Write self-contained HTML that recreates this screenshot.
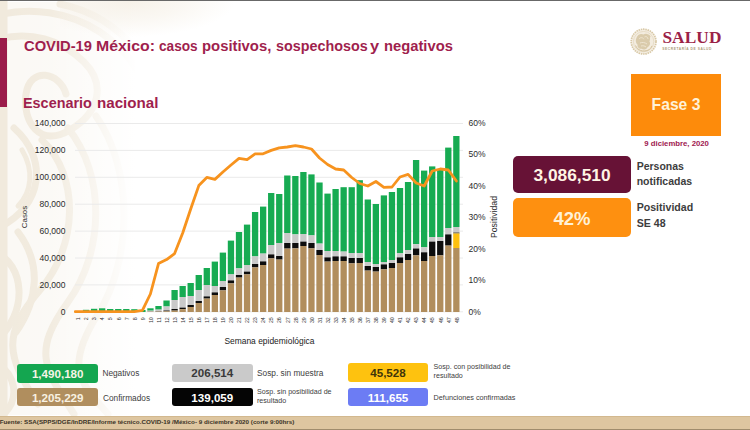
<!DOCTYPE html>
<html><head><meta charset="utf-8">
<style>
html,body{margin:0;padding:0;}
body{width:750px;height:430px;position:relative;overflow:hidden;background:#fff;font-family:"Liberation Sans",sans-serif;}
div{position:absolute;white-space:nowrap;line-height:1;}
.topline{left:0;top:0;width:750px;height:1.3px;background:#686868;}
.wm2{left:60px;top:1px;width:220px;height:40px;background:radial-gradient(ellipse 105px 36px at 70px 0px,rgba(243,236,224,0.7),rgba(243,236,224,0.4) 50%,rgba(243,236,224,0) 100%);}
.wm{left:0;top:2px;width:170px;height:413px;background:#fbf9f5;}
.sidebar{left:0;top:38px;width:7.2px;height:69px;background:#9b1c4a;}
.title{font-weight:bold;color:#9f1f4e;transform-origin:0 0;}
.sub{font-weight:bold;color:#9f1f4e;transform-origin:0 0;}
.yl{left:20px;width:45.5px;text-align:right;font-size:8.5px;color:#2b2b2b;}
.yr{left:468.6px;font-size:8.5px;color:#2b2b2b;}
.casos{left:24.7px;top:217.3px;font-size:7.9px;color:#2b2b2b;transform:translate(-50%,-50%) rotate(-90deg);}
.posit{left:493.6px;top:217.3px;font-size:8.7px;color:#2b2b2b;transform:translate(-50%,-50%) rotate(-90deg);}
.sem{left:224.4px;top:337.2px;font-size:8.45px;color:#222;}
.box{border-radius:3px;text-align:center;font-weight:bold;}
.lg{font-size:8.3px;color:#404040;}
.lgs{font-size:7.1px;color:#404040;}
.footer{left:0;top:415.5px;width:750px;height:14.5px;background:#dec6a0;border-top:1px solid #d2b88f;box-sizing:border-box;}
.footl{left:0;top:428.8px;width:750px;height:1.2px;background:#a08c6c;}
.ftext{left:-0.3px;top:418.7px;font-size:6.25px;font-weight:bold;color:#3a3327;}
</style></head><body>
<div class="wm"></div>
<svg style="position:absolute;left:0;top:0" width="170" height="416" viewBox="0 0 170 416">
<defs><linearGradient id="fd" x1="0" x2="1" y1="0" y2="0"><stop offset="0" stop-color="#fff" stop-opacity="0"/><stop offset="0.3" stop-color="#fff" stop-opacity="0.1"/><stop offset="0.5" stop-color="#fff" stop-opacity="0.45"/><stop offset="0.68" stop-color="#fff" stop-opacity="0.8"/><stop offset="0.8" stop-color="#fff" stop-opacity="1"/><stop offset="1" stop-color="#fff" stop-opacity="1"/></linearGradient></defs>
<g fill="none" stroke="#f1eadd" stroke-width="7" stroke-linecap="round">
<path d="M3 0 L3 416" stroke-width="9"/>
<path d="M-5 16 C30 6 70 12 100 32 S140 72 150 100"/>
<path d="M-5 40 C30 30 62 40 84 62 S100 112 70 130 S22 122 26 94 S60 72 66 94"/>
<path d="M60 4 C90 10 118 26 135 50"/>
<path d="M14 128 C48 158 44 206 -2 228"/>
<path d="M42 140 C80 176 78 246 40 290 S6 356 38 404"/>
<path d="M68 128 C106 176 104 252 68 302 S44 368 74 414"/>
<path d="M96 116 C134 170 132 260 98 314 S80 382 108 414"/>
<path d="M-5 252 C24 264 30 312 -5 342"/>
<path d="M-5 362 C16 374 20 398 4 414"/>
<path d="M18 232 C42 264 38 300 16 332"/>
<path d="M22 150 C34 170 32 192 18 206" stroke-width="5"/>
</g>
<rect x="0" y="0" width="170" height="416" fill="url(#fd)"/>
</svg>
<div class="wm2"></div>
<div class="topline"></div>
<div class="sidebar"></div>
<div class="title" style="left:23.58px;top:39.4px;font-size:14.2px;transform:scaleX(1.0378);">COVID-19</div>
<div class="title" style="left:96.11px;top:39.4px;font-size:14.2px;transform:scaleX(1.1162);">México:</div>
<div class="title" style="left:159.20px;top:39.4px;font-size:14.2px;transform:scaleX(0.9617);">casos</div>
<div class="title" style="left:202.16px;top:39.4px;font-size:14.2px;transform:scaleX(1.0469);">positivos,</div>
<div class="title" style="left:275.79px;top:39.4px;font-size:14.2px;transform:scaleX(1.0112);">sospechosos</div>
<div class="title" style="left:370.23px;top:39.4px;font-size:14.2px;transform:scaleX(1.1576);">y</div>
<div class="title" style="left:383.78px;top:39.4px;font-size:14.2px;transform:scaleX(1.0400);">negativos</div>
<div class="sub" style="left:23.19px;top:95.5px;font-size:14.2px;transform:scaleX(1.0152);">Escenario</div>
<div class="sub" style="left:97.15px;top:95.5px;font-size:14.2px;transform:scaleX(1.0679);">nacional</div>

<!-- logo -->
<svg style="position:absolute;left:627.9px;top:25.9px" width="32" height="32" viewBox="0 0 32 32">
<circle cx="15.6" cy="15.6" r="12.4" fill="#f4eee2" stroke="#d8c8a6" stroke-width="1.7" stroke-dasharray="1.5 0.8"/>
<circle cx="15.6" cy="15.6" r="10.2" fill="#f3ecdf" stroke="#e2d5bb" stroke-width="0.7"/>
<path d="M8.2 12.5 C9.5 8.5 13 7.2 15.5 8.6 C17 6.8 21 7.6 22.6 10.4 C21.4 11.2 22.6 13.4 21.4 15.4 C23 17 21.6 20.4 19.2 21.4 C18.6 23.4 15.4 24.4 13.6 22.8 C11 23.2 9 21 9.6 18.8 C7.8 17.4 7.4 14.6 8.2 12.5 Z" fill="#d5c5a2" opacity="0.85"/>
<path d="M11 13 C12.5 11 15 11.4 15.8 13.2 M16.5 11 C18 10 20 11 20 13 M12 17 C14 16 17 16.4 19 18 M13 20 C15 19.4 17 20 18 21" stroke="#efe6d4" stroke-width="0.9" fill="none"/>
<path d="M7.5 19.5 C9.5 24.5 15 26.2 20 24.2 C22 23.4 23.4 21.6 24 19.8" stroke="#d4c29c" stroke-width="1" fill="none"/>
</svg>
<div id="salud" style="left:662.4px;top:28.7px;font-family:'Liberation Serif',serif;font-weight:bold;font-size:17.3px;color:#9b2247;letter-spacing:0.1px;">SALUD</div>
<div id="secr" style="left:662.3px;top:48.3px;font-size:3.3px;font-weight:bold;color:#ad9b78;letter-spacing:0.57px;">SECRETARÍA DE SALUD</div>

<div style="left:631px;top:73.6px;width:90px;height:62px;background:#fd8b0b;"></div>
<div id="fase" style="left:631.2px;top:95.6px;width:90px;text-align:center;transform:scaleX(0.95);font-size:16.5px;font-weight:bold;color:#fff2d8;">Fase 3</div>
<div id="fecha" style="left:644.3px;top:140.3px;font-size:7.75px;font-weight:bold;color:#a02050;">9 diciembre, 2020</div>

<div style="left:513px;top:155.5px;width:118px;height:37.8px;background:#671236;border-radius:5px;"></div>
<div id="n1" style="left:513px;top:166.8px;width:118px;text-align:center;transform:scaleX(1.02);font-size:17px;font-weight:bold;color:#fff4e4;">3,086,510</div>
<div style="left:513px;top:198.4px;width:118px;height:38.2px;background:#fe9010;border-radius:5px;"></div>
<div id="n2" style="left:513.3px;top:210.8px;width:118px;text-align:center;transform:scaleX(1.05);font-size:17.6px;font-weight:bold;color:#fff2d8;">42%</div>
<div id="t1" style="left:636.7px;top:158.8px;font-size:10.5px;font-weight:bold;color:#3d3d3d;line-height:15.5px;white-space:normal;width:90px;">Personas<br>notificadas</div>
<div id="t2" style="left:636.7px;top:200.1px;font-size:10.6px;font-weight:bold;color:#3d3d3d;line-height:15.7px;white-space:normal;width:90px;">Positividad<br>SE 48</div>

<!-- chart -->
<svg style="position:absolute;left:0;top:0" width="750" height="430" viewBox="0 0 750 430" font-family="Liberation Sans, sans-serif">
<line x1="75" x2="463" y1="123.5" y2="123.5" stroke="#eaeaea" stroke-width="1"/>
<line x1="75" x2="463" y1="150.4" y2="150.4" stroke="#eaeaea" stroke-width="1"/>
<line x1="75" x2="463" y1="177.3" y2="177.3" stroke="#eaeaea" stroke-width="1"/>
<line x1="75" x2="463" y1="204.2" y2="204.2" stroke="#eaeaea" stroke-width="1"/>
<line x1="75" x2="463" y1="231.1" y2="231.1" stroke="#eaeaea" stroke-width="1"/>
<line x1="75" x2="463" y1="258.0" y2="258.0" stroke="#eaeaea" stroke-width="1"/>
<line x1="75" x2="463" y1="284.9" y2="284.9" stroke="#eaeaea" stroke-width="1"/>
<line x1="75" x2="463" y1="311.8" y2="311.8" stroke="#eaeaea" stroke-width="1"/>
<rect x="74.85" y="311.30" width="6.3" height="0.70" fill="#17ab52"/>
<rect x="82.90" y="309.80" width="6.3" height="2.20" fill="#17ab52"/>
<rect x="90.95" y="308.80" width="6.3" height="3.20" fill="#17ab52"/>
<rect x="99.00" y="308.30" width="6.3" height="3.70" fill="#17ab52"/>
<rect x="107.05" y="309.00" width="6.3" height="3.00" fill="#17ab52"/>
<rect x="115.10" y="309.00" width="6.3" height="3.00" fill="#17ab52"/>
<rect x="123.15" y="309.00" width="6.3" height="3.00" fill="#17ab52"/>
<rect x="131.20" y="309.20" width="6.3" height="2.80" fill="#17ab52"/>
<rect x="139.25" y="310.00" width="6.3" height="2.00" fill="#17ab52"/>
<rect x="147.30" y="308.30" width="6.3" height="2.40" fill="#17ab52"/>
<rect x="147.30" y="310.70" width="6.3" height="0.90" fill="#c9c9c9"/>
<rect x="147.30" y="311.60" width="6.3" height="0.10" fill="#0d0d0d"/>
<rect x="147.30" y="311.70" width="6.3" height="0.30" fill="#b18e5d"/>
<rect x="155.35" y="306.00" width="6.3" height="3.60" fill="#17ab52"/>
<rect x="155.35" y="309.60" width="6.3" height="1.70" fill="#c9c9c9"/>
<rect x="155.35" y="311.30" width="6.3" height="0.30" fill="#0d0d0d"/>
<rect x="155.35" y="311.60" width="6.3" height="0.40" fill="#b18e5d"/>
<rect x="163.40" y="300.50" width="6.3" height="6.00" fill="#17ab52"/>
<rect x="163.40" y="306.50" width="6.3" height="4.00" fill="#c9c9c9"/>
<rect x="163.40" y="310.50" width="6.3" height="0.80" fill="#0d0d0d"/>
<rect x="163.40" y="311.30" width="6.3" height="0.70" fill="#b18e5d"/>
<rect x="171.45" y="290.00" width="6.3" height="10.00" fill="#17ab52"/>
<rect x="171.45" y="300.00" width="6.3" height="9.00" fill="#c9c9c9"/>
<rect x="171.45" y="309.00" width="6.3" height="1.60" fill="#0d0d0d"/>
<rect x="171.45" y="310.60" width="6.3" height="1.40" fill="#b18e5d"/>
<rect x="179.50" y="286.00" width="6.3" height="11.00" fill="#17ab52"/>
<rect x="179.50" y="297.00" width="6.3" height="10.60" fill="#c9c9c9"/>
<rect x="179.50" y="307.60" width="6.3" height="1.60" fill="#0d0d0d"/>
<rect x="179.50" y="309.20" width="6.3" height="2.80" fill="#b18e5d"/>
<rect x="187.55" y="283.00" width="6.3" height="13.00" fill="#17ab52"/>
<rect x="187.55" y="296.00" width="6.3" height="9.00" fill="#c9c9c9"/>
<rect x="187.55" y="305.00" width="6.3" height="2.00" fill="#0d0d0d"/>
<rect x="187.55" y="307.00" width="6.3" height="5.00" fill="#b18e5d"/>
<rect x="195.60" y="275.00" width="6.3" height="15.00" fill="#17ab52"/>
<rect x="195.60" y="290.00" width="6.3" height="11.00" fill="#c9c9c9"/>
<rect x="195.60" y="301.00" width="6.3" height="2.00" fill="#0d0d0d"/>
<rect x="195.60" y="303.00" width="6.3" height="9.00" fill="#b18e5d"/>
<rect x="203.65" y="268.00" width="6.3" height="17.00" fill="#17ab52"/>
<rect x="203.65" y="285.00" width="6.3" height="11.40" fill="#c9c9c9"/>
<rect x="203.65" y="296.40" width="6.3" height="2.20" fill="#0d0d0d"/>
<rect x="203.65" y="298.60" width="6.3" height="13.40" fill="#b18e5d"/>
<rect x="211.70" y="261.60" width="6.3" height="24.40" fill="#17ab52"/>
<rect x="211.70" y="286.00" width="6.3" height="6.40" fill="#c9c9c9"/>
<rect x="211.70" y="292.40" width="6.3" height="2.60" fill="#0d0d0d"/>
<rect x="211.70" y="295.00" width="6.3" height="17.00" fill="#b18e5d"/>
<rect x="219.75" y="252.60" width="6.3" height="28.40" fill="#17ab52"/>
<rect x="219.75" y="281.00" width="6.3" height="6.00" fill="#c9c9c9"/>
<rect x="219.75" y="287.00" width="6.3" height="3.40" fill="#0d0d0d"/>
<rect x="219.75" y="290.40" width="6.3" height="21.60" fill="#b18e5d"/>
<rect x="227.80" y="240.60" width="6.3" height="33.80" fill="#17ab52"/>
<rect x="227.80" y="274.40" width="6.3" height="6.00" fill="#c9c9c9"/>
<rect x="227.80" y="280.40" width="6.3" height="3.00" fill="#0d0d0d"/>
<rect x="227.80" y="283.40" width="6.3" height="28.60" fill="#b18e5d"/>
<rect x="235.85" y="232.00" width="6.3" height="36.40" fill="#17ab52"/>
<rect x="235.85" y="268.40" width="6.3" height="6.60" fill="#c9c9c9"/>
<rect x="235.85" y="275.00" width="6.3" height="2.60" fill="#0d0d0d"/>
<rect x="235.85" y="277.60" width="6.3" height="34.40" fill="#b18e5d"/>
<rect x="243.90" y="224.60" width="6.3" height="40.40" fill="#17ab52"/>
<rect x="243.90" y="265.00" width="6.3" height="6.60" fill="#c9c9c9"/>
<rect x="243.90" y="271.60" width="6.3" height="2.80" fill="#0d0d0d"/>
<rect x="243.90" y="274.40" width="6.3" height="37.60" fill="#b18e5d"/>
<rect x="251.95" y="212.00" width="6.3" height="44.40" fill="#17ab52"/>
<rect x="251.95" y="256.40" width="6.3" height="7.60" fill="#c9c9c9"/>
<rect x="251.95" y="264.00" width="6.3" height="3.40" fill="#0d0d0d"/>
<rect x="251.95" y="267.40" width="6.3" height="44.60" fill="#b18e5d"/>
<rect x="260.00" y="206.60" width="6.3" height="47.00" fill="#17ab52"/>
<rect x="260.00" y="253.60" width="6.3" height="7.80" fill="#c9c9c9"/>
<rect x="260.00" y="261.40" width="6.3" height="3.60" fill="#0d0d0d"/>
<rect x="260.00" y="265.00" width="6.3" height="47.00" fill="#b18e5d"/>
<rect x="268.05" y="193.00" width="6.3" height="52.00" fill="#17ab52"/>
<rect x="268.05" y="245.00" width="6.3" height="9.40" fill="#c9c9c9"/>
<rect x="268.05" y="254.40" width="6.3" height="4.00" fill="#0d0d0d"/>
<rect x="268.05" y="258.40" width="6.3" height="53.60" fill="#b18e5d"/>
<rect x="276.10" y="194.00" width="6.3" height="49.00" fill="#17ab52"/>
<rect x="276.10" y="243.00" width="6.3" height="13.00" fill="#c9c9c9"/>
<rect x="276.10" y="256.00" width="6.3" height="3.60" fill="#0d0d0d"/>
<rect x="276.10" y="259.60" width="6.3" height="52.40" fill="#b18e5d"/>
<rect x="284.15" y="175.50" width="6.3" height="57.50" fill="#17ab52"/>
<rect x="284.15" y="233.00" width="6.3" height="10.00" fill="#c9c9c9"/>
<rect x="284.15" y="243.00" width="6.3" height="5.60" fill="#0d0d0d"/>
<rect x="284.15" y="248.60" width="6.3" height="63.40" fill="#b18e5d"/>
<rect x="292.20" y="176.00" width="6.3" height="58.40" fill="#17ab52"/>
<rect x="292.20" y="234.40" width="6.3" height="8.60" fill="#c9c9c9"/>
<rect x="292.20" y="243.00" width="6.3" height="5.40" fill="#0d0d0d"/>
<rect x="292.20" y="248.40" width="6.3" height="63.60" fill="#b18e5d"/>
<rect x="300.25" y="172.00" width="6.3" height="62.00" fill="#17ab52"/>
<rect x="300.25" y="234.00" width="6.3" height="7.60" fill="#c9c9c9"/>
<rect x="300.25" y="241.60" width="6.3" height="4.40" fill="#0d0d0d"/>
<rect x="300.25" y="246.00" width="6.3" height="66.00" fill="#b18e5d"/>
<rect x="308.30" y="174.40" width="6.3" height="61.00" fill="#17ab52"/>
<rect x="308.30" y="235.40" width="6.3" height="7.60" fill="#c9c9c9"/>
<rect x="308.30" y="243.00" width="6.3" height="5.40" fill="#0d0d0d"/>
<rect x="308.30" y="248.40" width="6.3" height="63.60" fill="#b18e5d"/>
<rect x="316.35" y="182.50" width="6.3" height="61.10" fill="#17ab52"/>
<rect x="316.35" y="243.60" width="6.3" height="6.40" fill="#c9c9c9"/>
<rect x="316.35" y="250.00" width="6.3" height="5.00" fill="#0d0d0d"/>
<rect x="316.35" y="255.00" width="6.3" height="57.00" fill="#b18e5d"/>
<rect x="324.40" y="193.60" width="6.3" height="57.40" fill="#17ab52"/>
<rect x="324.40" y="251.00" width="6.3" height="6.40" fill="#c9c9c9"/>
<rect x="324.40" y="257.40" width="6.3" height="4.20" fill="#0d0d0d"/>
<rect x="324.40" y="261.60" width="6.3" height="50.40" fill="#b18e5d"/>
<rect x="332.45" y="189.00" width="6.3" height="62.00" fill="#17ab52"/>
<rect x="332.45" y="251.00" width="6.3" height="5.40" fill="#c9c9c9"/>
<rect x="332.45" y="256.40" width="6.3" height="4.60" fill="#0d0d0d"/>
<rect x="332.45" y="261.00" width="6.3" height="51.00" fill="#b18e5d"/>
<rect x="340.50" y="187.20" width="6.3" height="64.40" fill="#17ab52"/>
<rect x="340.50" y="251.60" width="6.3" height="4.80" fill="#c9c9c9"/>
<rect x="340.50" y="256.40" width="6.3" height="4.60" fill="#0d0d0d"/>
<rect x="340.50" y="261.00" width="6.3" height="51.00" fill="#b18e5d"/>
<rect x="348.55" y="187.20" width="6.3" height="65.80" fill="#17ab52"/>
<rect x="348.55" y="253.00" width="6.3" height="5.00" fill="#c9c9c9"/>
<rect x="348.55" y="258.00" width="6.3" height="5.40" fill="#0d0d0d"/>
<rect x="348.55" y="263.40" width="6.3" height="48.60" fill="#b18e5d"/>
<rect x="356.60" y="180.20" width="6.3" height="72.80" fill="#17ab52"/>
<rect x="356.60" y="253.00" width="6.3" height="5.00" fill="#c9c9c9"/>
<rect x="356.60" y="258.00" width="6.3" height="5.00" fill="#0d0d0d"/>
<rect x="356.60" y="263.00" width="6.3" height="49.00" fill="#b18e5d"/>
<rect x="364.65" y="199.50" width="6.3" height="62.50" fill="#17ab52"/>
<rect x="364.65" y="262.00" width="6.3" height="4.00" fill="#c9c9c9"/>
<rect x="364.65" y="266.00" width="6.3" height="4.60" fill="#0d0d0d"/>
<rect x="364.65" y="270.60" width="6.3" height="41.40" fill="#b18e5d"/>
<rect x="372.70" y="204.00" width="6.3" height="60.00" fill="#17ab52"/>
<rect x="372.70" y="264.00" width="6.3" height="3.00" fill="#c9c9c9"/>
<rect x="372.70" y="267.00" width="6.3" height="4.60" fill="#0d0d0d"/>
<rect x="372.70" y="271.60" width="6.3" height="40.40" fill="#b18e5d"/>
<rect x="380.75" y="195.40" width="6.3" height="66.60" fill="#17ab52"/>
<rect x="380.75" y="262.00" width="6.3" height="2.40" fill="#c9c9c9"/>
<rect x="380.75" y="264.40" width="6.3" height="5.00" fill="#0d0d0d"/>
<rect x="380.75" y="269.40" width="6.3" height="42.60" fill="#b18e5d"/>
<rect x="388.80" y="192.00" width="6.3" height="68.00" fill="#17ab52"/>
<rect x="388.80" y="260.00" width="6.3" height="3.00" fill="#c9c9c9"/>
<rect x="388.80" y="263.00" width="6.3" height="5.00" fill="#0d0d0d"/>
<rect x="388.80" y="268.00" width="6.3" height="44.00" fill="#b18e5d"/>
<rect x="396.85" y="188.00" width="6.3" height="65.30" fill="#17ab52"/>
<rect x="396.85" y="253.30" width="6.3" height="4.10" fill="#c9c9c9"/>
<rect x="396.85" y="257.40" width="6.3" height="5.60" fill="#0d0d0d"/>
<rect x="396.85" y="263.00" width="6.3" height="49.00" fill="#b18e5d"/>
<rect x="404.90" y="182.00" width="6.3" height="68.00" fill="#17ab52"/>
<rect x="404.90" y="250.00" width="6.3" height="4.00" fill="#c9c9c9"/>
<rect x="404.90" y="254.00" width="6.3" height="6.00" fill="#0d0d0d"/>
<rect x="404.90" y="260.00" width="6.3" height="52.00" fill="#b18e5d"/>
<rect x="412.95" y="160.00" width="6.3" height="84.20" fill="#17ab52"/>
<rect x="412.95" y="244.20" width="6.3" height="4.30" fill="#c9c9c9"/>
<rect x="412.95" y="248.50" width="6.3" height="6.90" fill="#0d0d0d"/>
<rect x="412.95" y="255.40" width="6.3" height="56.60" fill="#b18e5d"/>
<rect x="421.00" y="170.60" width="6.3" height="76.70" fill="#17ab52"/>
<rect x="421.00" y="247.30" width="6.3" height="5.00" fill="#c9c9c9"/>
<rect x="421.00" y="252.30" width="6.3" height="8.70" fill="#0d0d0d"/>
<rect x="421.00" y="261.00" width="6.3" height="51.00" fill="#b18e5d"/>
<rect x="429.05" y="166.40" width="6.3" height="70.60" fill="#17ab52"/>
<rect x="429.05" y="237.00" width="6.3" height="4.60" fill="#c9c9c9"/>
<rect x="429.05" y="241.60" width="6.3" height="14.40" fill="#0d0d0d"/>
<rect x="429.05" y="256.00" width="6.3" height="56.00" fill="#b18e5d"/>
<rect x="437.10" y="169.00" width="6.3" height="68.00" fill="#17ab52"/>
<rect x="437.10" y="237.00" width="6.3" height="4.00" fill="#c9c9c9"/>
<rect x="437.10" y="241.00" width="6.3" height="14.40" fill="#0d0d0d"/>
<rect x="437.10" y="255.40" width="6.3" height="56.60" fill="#b18e5d"/>
<rect x="445.15" y="147.60" width="6.3" height="80.40" fill="#17ab52"/>
<rect x="445.15" y="228.00" width="6.3" height="6.40" fill="#c9c9c9"/>
<rect x="445.15" y="234.40" width="6.3" height="11.20" fill="#0d0d0d"/>
<rect x="445.15" y="245.60" width="6.3" height="66.40" fill="#b18e5d"/>
<rect x="453.20" y="136.00" width="6.3" height="91.00" fill="#17ab52"/>
<rect x="453.20" y="227.00" width="6.3" height="5.50" fill="#c9c9c9"/>
<rect x="453.20" y="232.50" width="6.3" height="1.00" fill="#3a3320"/>
<rect x="453.20" y="233.50" width="6.3" height="14.50" fill="#fdc010"/>
<rect x="453.20" y="248.00" width="6.3" height="64.00" fill="#b18e5d"/>
<polyline points="75.3,311.7 78.0,311.7 86.0,311.7 94.1,311.7 102.2,311.7 110.2,311.7 118.2,311.7 126.3,311.7 134.4,311.7 142.4,310.4 150.4,294.0 158.5,263.6 166.6,259.6 174.6,253.6 182.7,233.0 190.7,209.0 198.8,185.6 206.8,177.4 214.9,179.4 222.9,172.0 231.0,165.0 239.0,158.4 247.1,159.6 255.1,153.8 263.1,153.8 271.2,150.4 279.2,147.8 287.3,147.0 295.4,145.6 303.4,147.0 311.5,149.0 319.5,158.0 327.6,164.5 335.6,169.0 343.7,170.0 351.7,177.5 359.8,183.5 367.8,186.0 375.9,181.5 383.9,187.3 392.0,187.0 400.0,177.0 408.1,174.4 416.1,183.0 424.2,186.0 432.2,171.0 440.3,169.0 448.3,170.0 456.4,181.0" fill="none" stroke="#f7931e" stroke-width="2.8" stroke-linejoin="round" stroke-linecap="round"/>
<text transform="translate(80.2,317.2) rotate(-90)" text-anchor="end" font-size="5.3" fill="#333">1</text>
<text transform="translate(88.2,317.2) rotate(-90)" text-anchor="end" font-size="5.3" fill="#333">2</text>
<text transform="translate(96.3,317.2) rotate(-90)" text-anchor="end" font-size="5.3" fill="#333">3</text>
<text transform="translate(104.4,317.2) rotate(-90)" text-anchor="end" font-size="5.3" fill="#333">4</text>
<text transform="translate(112.4,317.2) rotate(-90)" text-anchor="end" font-size="5.3" fill="#333">5</text>
<text transform="translate(120.5,317.2) rotate(-90)" text-anchor="end" font-size="5.3" fill="#333">6</text>
<text transform="translate(128.5,317.2) rotate(-90)" text-anchor="end" font-size="5.3" fill="#333">7</text>
<text transform="translate(136.6,317.2) rotate(-90)" text-anchor="end" font-size="5.3" fill="#333">8</text>
<text transform="translate(144.6,317.2) rotate(-90)" text-anchor="end" font-size="5.3" fill="#333">9</text>
<text transform="translate(152.6,317.2) rotate(-90)" text-anchor="end" font-size="5.3" fill="#333">10</text>
<text transform="translate(160.7,317.2) rotate(-90)" text-anchor="end" font-size="5.3" fill="#333">11</text>
<text transform="translate(168.8,317.2) rotate(-90)" text-anchor="end" font-size="5.3" fill="#333">12</text>
<text transform="translate(176.8,317.2) rotate(-90)" text-anchor="end" font-size="5.3" fill="#333">13</text>
<text transform="translate(184.8,317.2) rotate(-90)" text-anchor="end" font-size="5.3" fill="#333">14</text>
<text transform="translate(192.9,317.2) rotate(-90)" text-anchor="end" font-size="5.3" fill="#333">15</text>
<text transform="translate(200.9,317.2) rotate(-90)" text-anchor="end" font-size="5.3" fill="#333">16</text>
<text transform="translate(209.0,317.2) rotate(-90)" text-anchor="end" font-size="5.3" fill="#333">17</text>
<text transform="translate(217.1,317.2) rotate(-90)" text-anchor="end" font-size="5.3" fill="#333">18</text>
<text transform="translate(225.1,317.2) rotate(-90)" text-anchor="end" font-size="5.3" fill="#333">19</text>
<text transform="translate(233.2,317.2) rotate(-90)" text-anchor="end" font-size="5.3" fill="#333">20</text>
<text transform="translate(241.2,317.2) rotate(-90)" text-anchor="end" font-size="5.3" fill="#333">21</text>
<text transform="translate(249.2,317.2) rotate(-90)" text-anchor="end" font-size="5.3" fill="#333">22</text>
<text transform="translate(257.3,317.2) rotate(-90)" text-anchor="end" font-size="5.3" fill="#333">23</text>
<text transform="translate(265.3,317.2) rotate(-90)" text-anchor="end" font-size="5.3" fill="#333">24</text>
<text transform="translate(273.4,317.2) rotate(-90)" text-anchor="end" font-size="5.3" fill="#333">25</text>
<text transform="translate(281.4,317.2) rotate(-90)" text-anchor="end" font-size="5.3" fill="#333">26</text>
<text transform="translate(289.5,317.2) rotate(-90)" text-anchor="end" font-size="5.3" fill="#333">27</text>
<text transform="translate(297.6,317.2) rotate(-90)" text-anchor="end" font-size="5.3" fill="#333">28</text>
<text transform="translate(305.6,317.2) rotate(-90)" text-anchor="end" font-size="5.3" fill="#333">29</text>
<text transform="translate(313.7,317.2) rotate(-90)" text-anchor="end" font-size="5.3" fill="#333">30</text>
<text transform="translate(321.7,317.2) rotate(-90)" text-anchor="end" font-size="5.3" fill="#333">31</text>
<text transform="translate(329.8,317.2) rotate(-90)" text-anchor="end" font-size="5.3" fill="#333">32</text>
<text transform="translate(337.8,317.2) rotate(-90)" text-anchor="end" font-size="5.3" fill="#333">33</text>
<text transform="translate(345.9,317.2) rotate(-90)" text-anchor="end" font-size="5.3" fill="#333">34</text>
<text transform="translate(353.9,317.2) rotate(-90)" text-anchor="end" font-size="5.3" fill="#333">35</text>
<text transform="translate(361.9,317.2) rotate(-90)" text-anchor="end" font-size="5.3" fill="#333">36</text>
<text transform="translate(370.0,317.2) rotate(-90)" text-anchor="end" font-size="5.3" fill="#333">37</text>
<text transform="translate(378.1,317.2) rotate(-90)" text-anchor="end" font-size="5.3" fill="#333">38</text>
<text transform="translate(386.1,317.2) rotate(-90)" text-anchor="end" font-size="5.3" fill="#333">39</text>
<text transform="translate(394.2,317.2) rotate(-90)" text-anchor="end" font-size="5.3" fill="#333">40</text>
<text transform="translate(402.2,317.2) rotate(-90)" text-anchor="end" font-size="5.3" fill="#333">41</text>
<text transform="translate(410.2,317.2) rotate(-90)" text-anchor="end" font-size="5.3" fill="#333">42</text>
<text transform="translate(418.3,317.2) rotate(-90)" text-anchor="end" font-size="5.3" fill="#333">43</text>
<text transform="translate(426.4,317.2) rotate(-90)" text-anchor="end" font-size="5.3" fill="#333">44</text>
<text transform="translate(434.4,317.2) rotate(-90)" text-anchor="end" font-size="5.3" fill="#333">45</text>
<text transform="translate(442.5,317.2) rotate(-90)" text-anchor="end" font-size="5.3" fill="#333">46</text>
<text transform="translate(450.5,317.2) rotate(-90)" text-anchor="end" font-size="5.3" fill="#333">47</text>
<text transform="translate(458.6,317.2) rotate(-90)" text-anchor="end" font-size="5.3" fill="#333">48</text>
</svg>
<div class="yl" style="top:119.2px">140,000</div>
<div class="yl" style="top:146.1px">120,000</div>
<div class="yl" style="top:173.0px">100,000</div>
<div class="yl" style="top:199.9px">80,000</div>
<div class="yl" style="top:226.8px">60,000</div>
<div class="yl" style="top:253.7px">40,000</div>
<div class="yl" style="top:280.6px">20,000</div>
<div class="yl" style="top:307.5px">0</div>
<div class="yr" style="top:119.0px">60%</div>
<div class="yr" style="top:150.4px">50%</div>
<div class="yr" style="top:181.9px">40%</div>
<div class="yr" style="top:213.3px">30%</div>
<div class="yr" style="top:244.8px">20%</div>
<div class="yr" style="top:276.2px">10%</div>
<div class="yr" style="top:307.7px">0%</div>
<div class="casos">Casos</div>
<div class="posit">Positividad</div>
<div class="sem" id="sem">Semana epidemiológica</div>

<!-- legend -->
<div class="box" style="left:17px;top:364px;width:81.4px;height:19px;background:#14a650;"></div>
<div class="box" id="b1" style="left:17px;top:368px;width:81.4px;font-size:11.6px;color:#f6f4e6;">1,490,180</div>
<div class="box" style="left:17px;top:388px;width:81.4px;height:18px;background:#b08e5e;"></div>
<div class="box" id="b2" style="left:17px;top:392px;width:81.4px;font-size:11.6px;color:#f8f1e2;">1,205,229</div>
<div class="lg" id="l1" style="left:102.4px;top:369px;">Negativos</div>
<div class="lg" id="l2" style="left:103px;top:394.4px;">Confirmados</div>

<div class="box" style="left:171.6px;top:363.6px;width:81.4px;height:18.6px;background:#cacaca;"></div>
<div class="box" id="b3" style="left:171.6px;top:367.4px;width:81.4px;font-size:11.6px;color:#3a3a3a;">206,514</div>
<div class="box" style="left:171.6px;top:388px;width:81.4px;height:18px;background:#050505;"></div>
<div class="box" id="b4" style="left:171.6px;top:392px;width:81.4px;font-size:11.6px;color:#fff;">139,059</div>
<div class="lg" id="l3" style="left:257px;top:369.3px;">Sosp. sin muestra</div>
<div class="lgs" id="l4" style="left:257px;top:388.1px;line-height:9px;">Sosp. sin posibilidad de<br>resultado</div>

<div class="box" style="left:347.6px;top:363px;width:80.8px;height:19px;background:#fec20f;"></div>
<div class="box" id="b5" style="left:347.6px;top:367.4px;width:80.8px;font-size:11.6px;color:#40350a;">45,528</div>
<div class="box" style="left:347.6px;top:387.6px;width:80.8px;height:18.4px;background:#6c7cf4;"></div>
<div class="box" id="b6" style="left:347.6px;top:392px;width:80.8px;font-size:11.6px;color:#fff;">111,655</div>
<div class="lgs" id="l5" style="left:433.6px;top:362.6px;line-height:9.6px;">Sosp. con posibilidad de<br>resultado</div>
<div class="lgs" id="l6" style="left:433.6px;top:393.8px;font-size:7.25px;">Defunciones confirmadas</div>

<div class="footer"></div><div class="footl"></div>
<div class="ftext" id="ftext">Fuente: SSA(SPPS/DGE/InDRE/Informe técnico.COVID-19 /México- 9 diciembre 2020 (corte 9:00hrs)</div>
</body></html>
